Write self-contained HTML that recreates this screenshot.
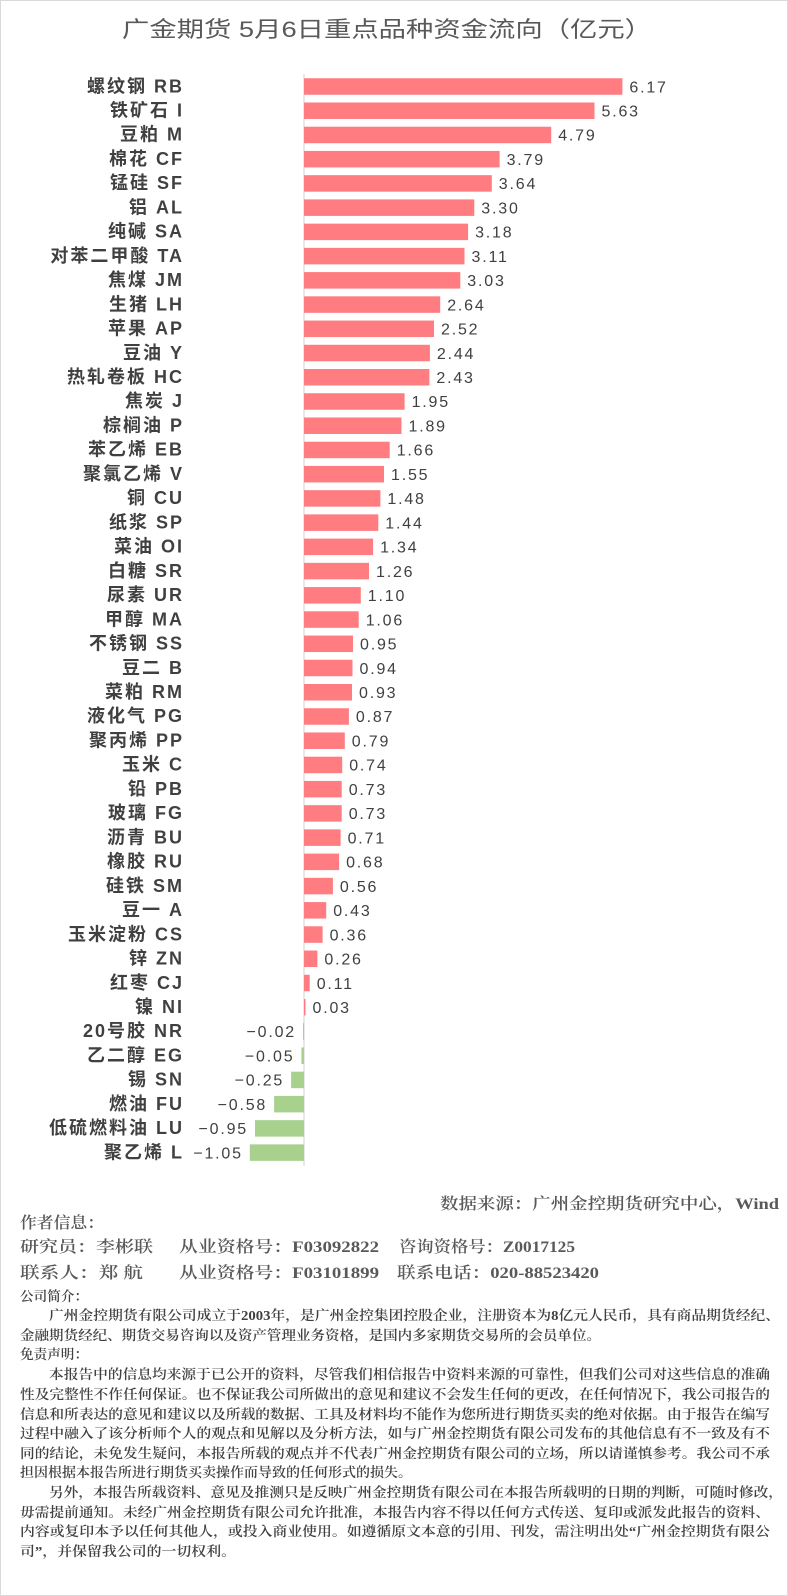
<!DOCTYPE html>
<html><head><meta charset="utf-8"><style>
html,body{margin:0;padding:0;background:#fff}
svg{display:block}
.l{font-family:"Liberation Sans","Noto Sans CJK SC",sans-serif;font-weight:bold;font-size:18px;fill:#404040;letter-spacing:2px;text-anchor:end}
.v{font-family:"Liberation Sans","Noto Sans CJK SC",sans-serif;font-size:16px;fill:#404040;letter-spacing:1.8px}
.n{text-anchor:end}
.p{fill:#FF7C80}.g{fill:#A9D18E}
.f{font-family:"Liberation Serif","Noto Serif CJK SC",serif;fill:#595959}
.a{font-size:16px;font-weight:600}
.s{font-size:13.5px;font-weight:600;fill:#404040}
</style></head><body>
<svg width="788" height="1596" viewBox="0 0 788 1596" xmlns="http://www.w3.org/2000/svg">
<rect x="0.5" y="0.5" width="787" height="1595" fill="#fff" stroke="#d9d9d9"/>
<text x="122" y="37" textLength="530" lengthAdjust="spacingAndGlyphs" style="font-family:'Liberation Sans','Noto Sans CJK SC',sans-serif;font-size:22px;fill:#595959">广金期货 5月6日重点品种资金流向（亿元）</text>
<line x1="304" y1="74" x2="304" y2="1166" stroke="#d9d9d9" stroke-width="1.2"/>
<g transform="translate(0,78.25)"><rect class="p" x="304" y="0" width="318.4" height="16.5"/><text class="l" x="184" y="14">螺纹钢 RB</text><text class="v" x="629.4" y="14">6.17</text></g>
<g transform="translate(0,102.48)"><rect class="p" x="304" y="0" width="290.5" height="16.5"/><text class="l" x="184" y="14">铁矿石 I</text><text class="v" x="601.5" y="14">5.63</text></g>
<g transform="translate(0,126.71)"><rect class="p" x="304" y="0" width="247.2" height="16.5"/><text class="l" x="184" y="14">豆粕 M</text><text class="v" x="558.2" y="14">4.79</text></g>
<g transform="translate(0,150.94)"><rect class="p" x="304" y="0" width="195.6" height="16.5"/><text class="l" x="184" y="14">棉花 CF</text><text class="v" x="506.6" y="14">3.79</text></g>
<g transform="translate(0,175.17)"><rect class="p" x="304" y="0" width="187.8" height="16.5"/><text class="l" x="184" y="14">锰硅 SF</text><text class="v" x="498.8" y="14">3.64</text></g>
<g transform="translate(0,199.40)"><rect class="p" x="304" y="0" width="170.3" height="16.5"/><text class="l" x="184" y="14">铝 AL</text><text class="v" x="481.3" y="14">3.30</text></g>
<g transform="translate(0,223.63)"><rect class="p" x="304" y="0" width="164.1" height="16.5"/><text class="l" x="184" y="14">纯碱 SA</text><text class="v" x="475.1" y="14">3.18</text></g>
<g transform="translate(0,247.86)"><rect class="p" x="304" y="0" width="160.5" height="16.5"/><text class="l" x="184" y="14">对苯二甲酸 TA</text><text class="v" x="471.5" y="14">3.11</text></g>
<g transform="translate(0,272.09)"><rect class="p" x="304" y="0" width="156.3" height="16.5"/><text class="l" x="184" y="14">焦煤 JM</text><text class="v" x="467.3" y="14">3.03</text></g>
<g transform="translate(0,296.32)"><rect class="p" x="304" y="0" width="136.2" height="16.5"/><text class="l" x="184" y="14">生猪 LH</text><text class="v" x="447.2" y="14">2.64</text></g>
<g transform="translate(0,320.55)"><rect class="p" x="304" y="0" width="130.0" height="16.5"/><text class="l" x="184" y="14">苹果 AP</text><text class="v" x="441" y="14">2.52</text></g>
<g transform="translate(0,344.78)"><rect class="p" x="304" y="0" width="125.9" height="16.5"/><text class="l" x="184" y="14">豆油 Y</text><text class="v" x="436.9" y="14">2.44</text></g>
<g transform="translate(0,369.01)"><rect class="p" x="304" y="0" width="125.4" height="16.5"/><text class="l" x="184" y="14">热轧卷板 HC</text><text class="v" x="436.4" y="14">2.43</text></g>
<g transform="translate(0,393.24)"><rect class="p" x="304" y="0" width="100.6" height="16.5"/><text class="l" x="184" y="14">焦炭 J</text><text class="v" x="411.6" y="14">1.95</text></g>
<g transform="translate(0,417.47)"><rect class="p" x="304" y="0" width="97.5" height="16.5"/><text class="l" x="184" y="14">棕榈油 P</text><text class="v" x="408.5" y="14">1.89</text></g>
<g transform="translate(0,441.70)"><rect class="p" x="304" y="0" width="85.7" height="16.5"/><text class="l" x="184" y="14">苯乙烯 EB</text><text class="v" x="396.7" y="14">1.66</text></g>
<g transform="translate(0,465.93)"><rect class="p" x="304" y="0" width="80.0" height="16.5"/><text class="l" x="184" y="14">聚氯乙烯 V</text><text class="v" x="391" y="14">1.55</text></g>
<g transform="translate(0,490.16)"><rect class="p" x="304" y="0" width="76.4" height="16.5"/><text class="l" x="184" y="14">铜 CU</text><text class="v" x="387.4" y="14">1.48</text></g>
<g transform="translate(0,514.39)"><rect class="p" x="304" y="0" width="74.3" height="16.5"/><text class="l" x="184" y="14">纸浆 SP</text><text class="v" x="385.3" y="14">1.44</text></g>
<g transform="translate(0,538.62)"><rect class="p" x="304" y="0" width="69.1" height="16.5"/><text class="l" x="184" y="14">菜油 OI</text><text class="v" x="380.1" y="14">1.34</text></g>
<g transform="translate(0,562.85)"><rect class="p" x="304" y="0" width="65.0" height="16.5"/><text class="l" x="184" y="14">白糖 SR</text><text class="v" x="376" y="14">1.26</text></g>
<g transform="translate(0,587.08)"><rect class="p" x="304" y="0" width="56.8" height="16.5"/><text class="l" x="184" y="14">尿素 UR</text><text class="v" x="367.8" y="14">1.10</text></g>
<g transform="translate(0,611.31)"><rect class="p" x="304" y="0" width="54.7" height="16.5"/><text class="l" x="184" y="14">甲醇 MA</text><text class="v" x="365.7" y="14">1.06</text></g>
<g transform="translate(0,635.54)"><rect class="p" x="304" y="0" width="49.0" height="16.5"/><text class="l" x="184" y="14">不锈钢 SS</text><text class="v" x="360" y="14">0.95</text></g>
<g transform="translate(0,659.77)"><rect class="p" x="304" y="0" width="48.5" height="16.5"/><text class="l" x="184" y="14">豆二 B</text><text class="v" x="359.5" y="14">0.94</text></g>
<g transform="translate(0,684.00)"><rect class="p" x="304" y="0" width="48.0" height="16.5"/><text class="l" x="184" y="14">菜粕 RM</text><text class="v" x="359" y="14">0.93</text></g>
<g transform="translate(0,708.23)"><rect class="p" x="304" y="0" width="44.9" height="16.5"/><text class="l" x="184" y="14">液化气 PG</text><text class="v" x="355.9" y="14">0.87</text></g>
<g transform="translate(0,732.46)"><rect class="p" x="304" y="0" width="40.8" height="16.5"/><text class="l" x="184" y="14">聚丙烯 PP</text><text class="v" x="351.8" y="14">0.79</text></g>
<g transform="translate(0,756.69)"><rect class="p" x="304" y="0" width="38.2" height="16.5"/><text class="l" x="184" y="14">玉米 C</text><text class="v" x="349.2" y="14">0.74</text></g>
<g transform="translate(0,780.92)"><rect class="p" x="304" y="0" width="37.7" height="16.5"/><text class="l" x="184" y="14">铅 PB</text><text class="v" x="348.7" y="14">0.73</text></g>
<g transform="translate(0,805.15)"><rect class="p" x="304" y="0" width="37.7" height="16.5"/><text class="l" x="184" y="14">玻璃 FG</text><text class="v" x="348.7" y="14">0.73</text></g>
<g transform="translate(0,829.38)"><rect class="p" x="304" y="0" width="36.6" height="16.5"/><text class="l" x="184" y="14">沥青 BU</text><text class="v" x="347.6" y="14">0.71</text></g>
<g transform="translate(0,853.61)"><rect class="p" x="304" y="0" width="35.1" height="16.5"/><text class="l" x="184" y="14">橡胶 RU</text><text class="v" x="346.1" y="14">0.68</text></g>
<g transform="translate(0,877.84)"><rect class="p" x="304" y="0" width="28.9" height="16.5"/><text class="l" x="184" y="14">硅铁 SM</text><text class="v" x="339.9" y="14">0.56</text></g>
<g transform="translate(0,902.07)"><rect class="p" x="304" y="0" width="22.2" height="16.5"/><text class="l" x="184" y="14">豆一 A</text><text class="v" x="333.2" y="14">0.43</text></g>
<g transform="translate(0,926.30)"><rect class="p" x="304" y="0" width="18.6" height="16.5"/><text class="l" x="184" y="14">玉米淀粉 CS</text><text class="v" x="329.6" y="14">0.36</text></g>
<g transform="translate(0,950.53)"><rect class="p" x="304" y="0" width="13.4" height="16.5"/><text class="l" x="184" y="14">锌 ZN</text><text class="v" x="324.4" y="14">0.26</text></g>
<g transform="translate(0,974.76)"><rect class="p" x="304" y="0" width="5.7" height="16.5"/><text class="l" x="184" y="14">红枣 CJ</text><text class="v" x="316.7" y="14">0.11</text></g>
<g transform="translate(0,998.99)"><rect class="p" x="304" y="0" width="1.5" height="16.5"/><text class="l" x="184" y="14">镍 NI</text><text class="v" x="312.5" y="14">0.03</text></g>
<g transform="translate(0,1023.22)"><rect class="g" x="303" y="0" width="1.0" height="16.5"/><text class="l" x="184" y="14">20号胶 NR</text><text class="v n" x="296" y="14">−0.02</text></g>
<g transform="translate(0,1047.45)"><rect class="g" x="301.4" y="0" width="2.6" height="16.5"/><text class="l" x="184" y="14">乙二醇 EG</text><text class="v n" x="294.4" y="14">−0.05</text></g>
<g transform="translate(0,1071.68)"><rect class="g" x="291.1" y="0" width="12.9" height="16.5"/><text class="l" x="184" y="14">锡 SN</text><text class="v n" x="284.1" y="14">−0.25</text></g>
<g transform="translate(0,1095.91)"><rect class="g" x="274.1" y="0" width="29.9" height="16.5"/><text class="l" x="184" y="14">燃油 FU</text><text class="v n" x="267.1" y="14">−0.58</text></g>
<g transform="translate(0,1120.14)"><rect class="g" x="255" y="0" width="49.0" height="16.5"/><text class="l" x="184" y="14">低硫燃料油 LU</text><text class="v n" x="248" y="14">−0.95</text></g>
<g transform="translate(0,1144.37)"><rect class="g" x="249.8" y="0" width="54.2" height="16.5"/><text class="l" x="184" y="14">聚乙烯 L</text><text class="v n" x="242.8" y="14">−1.05</text></g>

<text class="f a" x="440" y="1209" textLength="339" lengthAdjust="spacingAndGlyphs">数据来源：广州金控期货研究中心，Wind</text>
<text class="f a" x="20" y="1228" textLength="84" lengthAdjust="spacingAndGlyphs">作者信息：</text>
<text class="f a" x="20" y="1252" textLength="133" lengthAdjust="spacingAndGlyphs">研究员：李彬联</text>
<text class="f a" x="179" y="1252" textLength="200" lengthAdjust="spacingAndGlyphs">从业资格号：F03092822</text>
<text class="f a" x="399" y="1252" textLength="176" lengthAdjust="spacingAndGlyphs">咨询资格号：Z0017125</text>
<text class="f a" x="20" y="1278" textLength="123" lengthAdjust="spacingAndGlyphs">联系人：郑 航</text>
<text class="f a" x="179" y="1278" textLength="200" lengthAdjust="spacingAndGlyphs">从业资格号：F03101899</text>
<text class="f a" x="397" y="1278" textLength="202" lengthAdjust="spacingAndGlyphs">联系电话：020-88523420</text>

<text class="f s" x="20" y="1301" textLength="68" lengthAdjust="spacingAndGlyphs">公司简介：</text>
<text class="f s" x="49" y="1320" textLength="731" lengthAdjust="spacingAndGlyphs">广州金控期货有限公司成立于2003年，是广州金控集团控股企业，注册资本为8亿元人民币，具有商品期货经纪、</text>
<text class="f s" x="20" y="1340" textLength="581" lengthAdjust="spacingAndGlyphs">金融期货经纪、期货交易咨询以及资产管理业务资格，是国内多家期货交易所的会员单位。</text>
<text class="f s" x="20" y="1359" textLength="68" lengthAdjust="spacingAndGlyphs">免责声明：</text>
<text class="f s" x="49" y="1379" textLength="721" lengthAdjust="spacingAndGlyphs">本报告中的信息均来源于已公开的资料，尽管我们相信报告中资料来源的可靠性，但我们公司对这些信息的准确</text>
<text class="f s" x="20" y="1399" textLength="750" lengthAdjust="spacingAndGlyphs">性及完整性不作任何保证。也不保证我公司所做出的意见和建议不会发生任何的更改，在任何情况下，我公司报告的</text>
<text class="f s" x="20" y="1419" textLength="750" lengthAdjust="spacingAndGlyphs">信息和所表达的意见和建议以及所载的数据、工具及材料均不能作为您所进行期货买卖的绝对依据。由于报告在编写</text>
<text class="f s" x="20" y="1438" textLength="750" lengthAdjust="spacingAndGlyphs">过程中融入了该分析师个人的观点和见解以及分析方法，如与广州金控期货有限公司发布的其他信息有不一致及有不</text>
<text class="f s" x="20" y="1458" textLength="750" lengthAdjust="spacingAndGlyphs">同的结论，未免发生疑问，本报告所载的观点并不代表广州金控期货有限公司的立场，所以请谨慎参考。我公司不承</text>
<text class="f s" x="20" y="1477" textLength="392" lengthAdjust="spacingAndGlyphs">担因根据本报告所进行期货买卖操作而导致的任何形式的损失。</text>
<text class="f s" x="49" y="1497" textLength="734" lengthAdjust="spacingAndGlyphs">另外，本报告所载资料、意见及推测只是反映广州金控期货有限公司在本报告所载明的日期的判断，可随时修改，</text>
<text class="f s" x="20" y="1517" textLength="750" lengthAdjust="spacingAndGlyphs">毋需提前通知。未经广州金控期货有限公司允许批准，本报告内容不得以任何方式传送、复印或派发此报告的资料、</text>
<text class="f s" x="20" y="1536" textLength="750" lengthAdjust="spacingAndGlyphs">内容或复印本予以任何其他人，或投入商业使用。如遵循原文本意的引用、刊发，需注明出处“广州金控期货有限公</text>
<text class="f s" x="20" y="1556" textLength="216" lengthAdjust="spacingAndGlyphs">司”，并保留我公司的一切权利。</text>
</svg>
</body></html>
